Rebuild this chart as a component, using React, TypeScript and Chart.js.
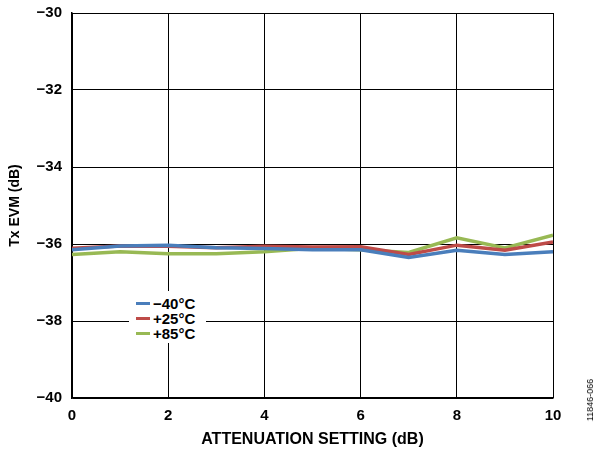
import React, { useEffect, useRef } from "react";
import { Chart, registerables } from "chart.js";

Chart.register(...registerables);

const attenuation = [0, 1, 2, 3, 4, 5, 6, 7, 8, 9, 10];
const evmMinus40 = [-36.15, -36.05, -36.03, -36.1, -36.12, -36.15, -36.15, -36.35, -36.16, -36.27, -36.2];
const evmPlus25 = [-36.11, -36.05, -36.06, -36.1, -36.06, -36.08, -36.07, -36.27, -36.03, -36.16, -35.95];
const evmPlus85 = [-36.27, -36.2, -36.25, -36.25, -36.2, -36.11, -36.15, -36.22, -35.84, -36.1, -35.77];
const seriesLabels = ["\u221240\u00b0C", "+25\u00b0C", "+85\u00b0C"];
const seriesColors = ["#4a7ebb", "#be4b48", "#98b954"];
const xTitle = "ATTENUATION SETTING (dB)";
const yTitle = "Tx EVM (dB)";
const figId = "11846-066";

const FONT = "'Liberation Sans', Arial, sans-serif";

export default function App() {
  const ref = useRef<HTMLCanvasElement | null>(null);
  useEffect(() => {
    if (!ref.current) return;
    const series = [evmMinus40, evmPlus25, evmPlus85];
    const chart = new Chart(ref.current, {
      type: "line",
      data: {
        datasets: series.map((s, i) => ({
          label: seriesLabels[i],
          data: attenuation.map((x, j) => ({ x, y: s[j] })),
          borderColor: seriesColors[i],
          backgroundColor: seriesColors[i],
          borderWidth: 3.5,
          pointRadius: 0,
          tension: 0,
        })),
      },
      options: {
        animation: false,
        responsive: false,
        layout: { padding: { top: 13, right: 44, left: 0, bottom: 0 } },
        plugins: { legend: { display: false }, tooltip: { enabled: false } },
        scales: {
          x: {
            type: "linear",
            min: 0,
            max: 10,
            afterFit: (s: any) => { s.height = 54; s.paddingLeft = 0; s.paddingRight = 0; },
            ticks: {
              stepSize: 2,
              color: "#000",
              padding: 9,
              font: { family: FONT, size: 15, weight: "bold" },
            },
            grid: { color: "#000", lineWidth: 1, drawTicks: false },
            border: { color: "#000", width: 1.5 },
            title: {
              display: true,
              text: xTitle,
              color: "#000",
              font: { family: FONT, size: 16, weight: "bold" },
              padding: { top: 2, bottom: 3 },
            },
          },
          y: {
            min: -40,
            max: -30,
            afterFit: (s: any) => { s.width = 72; s.paddingTop = 0; s.paddingBottom = 0; },
            ticks: {
              stepSize: 2,
              color: "#000",
              padding: 10,
              font: { family: FONT, size: 15, weight: "bold" },
              callback: (v: any) => String(v).replace("-", "\u2212"),
            },
            grid: { color: "#000", lineWidth: 1, drawTicks: false },
            border: { color: "#000", width: 1.5 },
            title: {
              display: true,
              text: yTitle,
              color: "#000",
              font: { family: FONT, size: 14, weight: "bold" },
              padding: { top: 7, bottom: 0 },
            },
          },
        },
      },
    });
    return () => chart.destroy();
  }, []);

  return (
    <div style={{ position: "fixed", left: 0, top: 0, width: 597, height: 452, background: "#fff", fontFamily: FONT }}>
      <canvas ref={ref} width={597} height={452} style={{ position: "absolute", left: 0, top: 0 }} />
      <div style={{ position: "absolute", left: 129, top: 291, width: 77, height: 52, background: "#fff" }}>
        {seriesLabels.map((l, i) => (
          <div key={l} style={{ position: "absolute", left: 7, top: 5 + i * 15, height: 15, display: "flex", alignItems: "center" }}>
            <div style={{ width: 14, height: 3, background: seriesColors[i], marginRight: 3 }} />
            <span style={{ fontSize: 15, fontWeight: "bold", color: "#000", lineHeight: "15px" }}>{l}</span>
          </div>
        ))}
      </div>
      <div style={{ position: "absolute", left: 590, top: 400, transform: "translate(-50%, -50%) rotate(-90deg)", fontSize: 9, color: "#000", whiteSpace: "nowrap" }}>
        {figId}
      </div>
    </div>
  );
}
